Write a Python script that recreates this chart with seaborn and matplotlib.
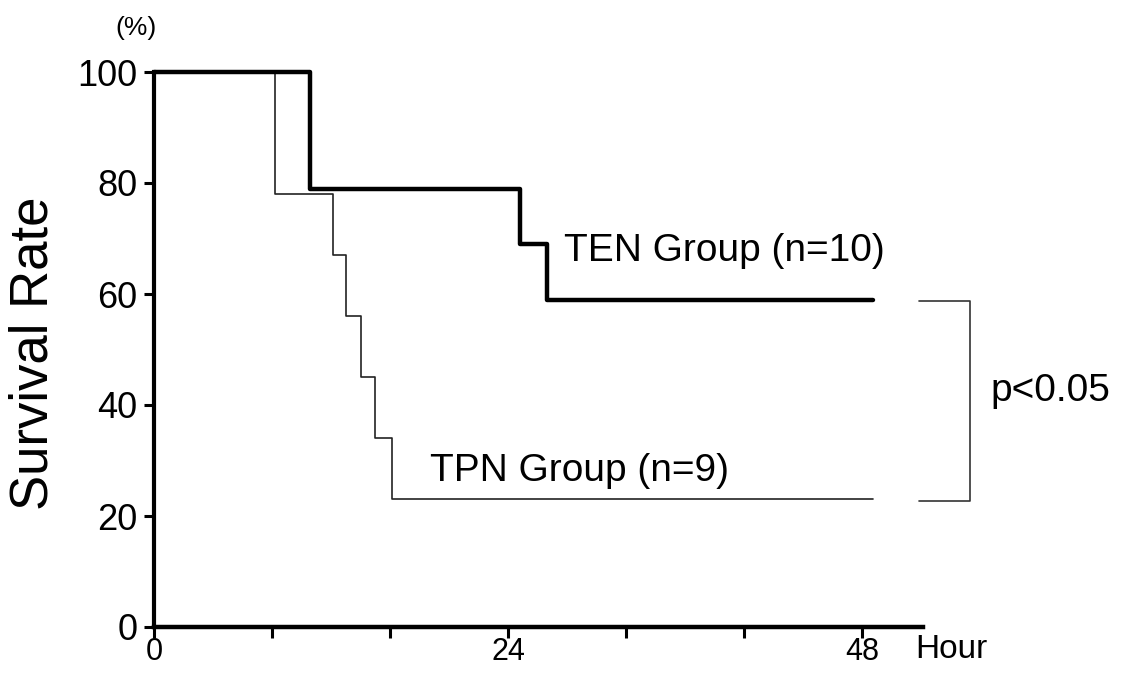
import pandas as pd
import matplotlib
matplotlib.use("Agg")
import matplotlib.pyplot as plt
import seaborn as sns

sns.set_theme(style="ticks")
plt.rcParams['font.family'] = ['Liberation Sans', 'DejaVu Sans']
plt.rcParams['text.color'] = 'black'
plt.rcParams['axes.edgecolor'] = 'black'
plt.rcParams['xtick.color'] = 'black'
plt.rcParams['ytick.color'] = 'black'

# Kaplan-Meier style survival curves
ten_hours = [0, 10.6, 24.8, 26.6, 48.7]
ten_survival = [100, 79, 69, 59, 59]
tpn_hours = [0, 8.2, 12.1, 13.0, 14.0, 15.0, 16.1, 48.7]
tpn_survival = [100, 78, 67, 56, 45, 34, 23, 23]

x_ticks = [0, 8, 16, 24, 32, 40, 48]
x_tick_labels = ['0', '', '', '24', '', '', '48']
y_ticks = [0, 20, 40, 60, 80, 100]

ten_label = 'TEN Group (n=10)'
tpn_label = 'TPN Group (n=9)'
p_label = 'p<0.05'


def plot_survival():
    df_ten = pd.DataFrame({'hour': ten_hours, 'survival': ten_survival})
    df_tpn = pd.DataFrame({'hour': tpn_hours, 'survival': tpn_survival})

    fig = plt.figure(figsize=(11.23, 6.73), dpi=100)
    ax = fig.add_axes([154 / 1123, 1 - 627 / 673, 769 / 1123, 555 / 673])

    # thin line first, thick line on top
    sns.lineplot(data=df_tpn, x='hour', y='survival', ax=ax, estimator=None, sort=False,
                 drawstyle='steps-post', color='#222222', linewidth=1.2, clip_on=False)
    sns.lineplot(data=df_ten, x='hour', y='survival', ax=ax, estimator=None, sort=False,
                 drawstyle='steps-post', color='black', linewidth=3.2, clip_on=False)

    ax.set_xlim(0, 52.1)
    ax.set_ylim(0, 100)
    ax.set_xticks(x_ticks)
    ax.set_xticklabels(x_tick_labels)
    ax.set_yticks(y_ticks)
    ax.set_xlabel('')
    ax.set_ylabel('')

    for side in ['top', 'right']:
        ax.spines[side].set_visible(False)
    ax.spines['left'].set_linewidth(3)
    ax.spines['bottom'].set_linewidth(3.2)
    ax.tick_params(axis='y', length=7, width=2.2, pad=5, labelsize=26)
    ax.tick_params(axis='x', length=8, width=2.2, pad=-1, labelsize=22)

    # group labels
    ax.text(27.8, 67.7, ten_label, fontsize=28, ha='left', va='center')
    ax.text(18.7, 28.1, tpn_label, fontsize=28, ha='left', va='center')

    # significance bracket
    ax.plot([51.8, 55.3, 55.3, 51.8], [58.8, 58.8, 22.7, 22.7],
            color='#333333', linewidth=1.2, clip_on=False)
    ax.text(56.7, 42.5, p_label, fontsize=28, ha='left', va='center', clip_on=False)

    fig.text(34 / 1123, 1 - 353 / 673, 'Survival Rate', rotation=90,
             fontsize=38, ha='center', va='center')
    fig.text(915 / 1123, 1 - 650 / 673, 'Hour', fontsize=24, ha='left', va='center')
    fig.text(136 / 1123, 1 - 28 / 673, '(%)', fontsize=19, ha='center', va='center')

    fig.savefig('out.png', dpi=100)


if __name__ == "__main__":
    plot_survival()
